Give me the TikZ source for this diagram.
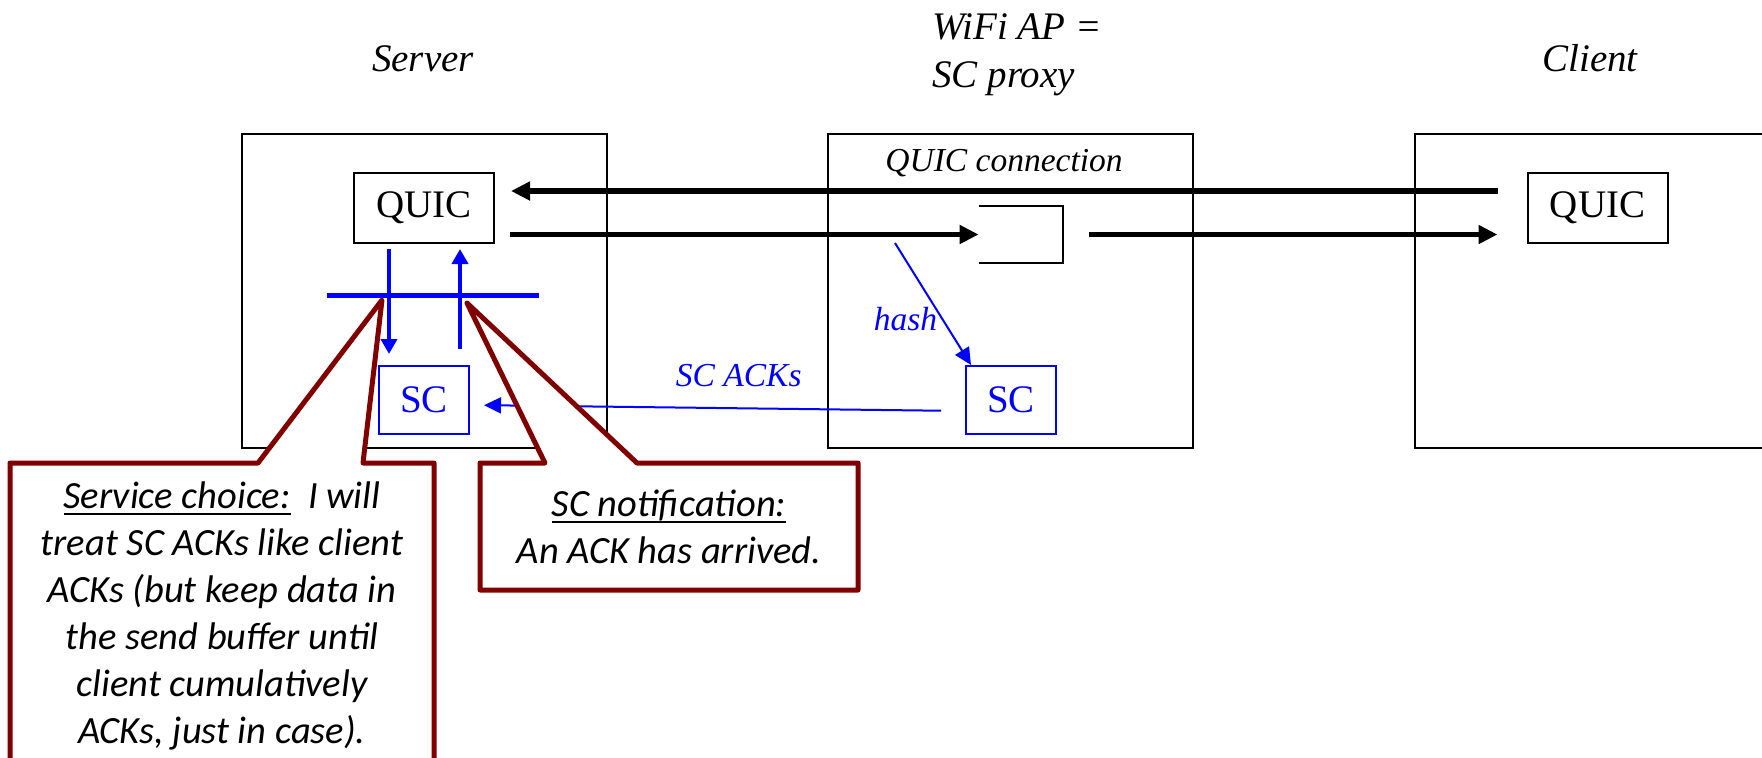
\documentclass[tikz,border=0pt]{standalone}
\usepackage{fontspec}
\setmainfont{Liberation Serif}
\newfontfamily\notefont{Carlito}
\usepackage{tikz}
\usetikzlibrary{arrows.meta,positioning}
\definecolor{sc_blue}{RGB}{0,0,255}
\definecolor{sc_maroon}{RGB}{128,0,0}
\newcommand\noteul[1]{\begingroup\setbox0\hbox{#1}\rlap{\rule[-3.6pt]{\wd0}{1.1pt}}\box0\endgroup}

\begin{document}
\begin{tikzpicture}[x=0.5pt, y=-0.5pt,
    host/.style={draw, line width=1pt, inner sep=0pt,
      minimum width=182.5pt, minimum height=157pt},
    quicbox/.style={draw, line width=1pt, minimum width=70pt, minimum height=35pt,
      font=\fontsize{19.5}{23}\selectfont},
    scbox/.style={draw=sc_blue, text=sc_blue, line width=1pt,
      minimum width=45pt, minimum height=34pt, font=\fontsize{19.5}{23}\selectfont},
    title/.style={inner sep=0pt, font=\fontsize{19.5}{24}\selectfont\itshape},
    tag/.style={font=\fontsize{16.75}{20}\selectfont\itshape},
    flow/.style={-{Triangle[length=9.5pt,width=9pt]}, line width=2.75pt},
    layer/.style={-{Triangle[length=7.5pt,width=8pt]}, sc_blue, line width=2.25pt},
    ack/.style={-{Triangle[length=8.5pt,width=8pt]}, sc_blue, line width=1pt},
    note/.style={draw=sc_maroon, fill=white, line width=2.5pt, line join=round},
    notetext/.style={align=center, font=\fontsize{19.25}{23.5}\selectfont\notefont\itshape}]
  \useasboundingbox (0,0) rectangle (1762,757);

  % hosts
  \node[host] (server) at (424,291) {};
  \node[host] (ap) at (1010.5,291) {};
  \node[host] (client) at (1597.5,291) {};
  \node[title, anchor=base] (servl) at (423,71) {Server};
  \node[title, anchor=base west, align=left] (apl) at (932,87) {WiFi AP =\\SC proxy};
  \node[title, anchor=base] (clil) at (1590,71) {Client};

  \node[quicbox] (squic) at (424,208) {QUIC};
  \node[quicbox] (cquic) at (1597.5,208) {QUIC};
  \node[scbox] (ssc) at (424,400) {SC};
  \node[scbox] (psc) at (1011,400) {SC};
  \node[tag, anchor=base] (connl) at (1004,171) {QUIC connection};

  % proxy buffer
  \node[minimum width=42pt, minimum height=28.5pt, inner sep=0pt] (buf) at (1021,234.5) {};
  \draw[line width=1pt] (buf.north west) -- (buf.north east) -- (buf.south east) -- (buf.south west);

  % QUIC packets
  \draw[flow, shorten <=14.5pt, shorten >=8pt] (cquic.west |- 0,191) -- (squic.east |- 0,191);
  \draw[flow, shorten <=7.5pt] (squic.east |- buf.west) -- (buf.west);
  \draw[flow, shorten <=13pt, shorten >=14.5pt] (buf.east) -- (cquic.west |- buf.east);

  % SC layer in the server
  \draw[sc_blue, line width=2.5pt] (327,295) -- (539,295);
  \draw[layer, shorten <=2.5pt, shorten >=5.5pt]
    ([xshift=-17.5pt]squic.south) -- ([xshift=-17.5pt]ssc.north);
  \draw[layer, shorten <=8pt, shorten >=2.5pt]
    ([xshift=18pt]ssc.north) -- ([xshift=18pt]squic.south);

  % hash and SC ACKs
  \coordinate (tap) at (895,243);
  \draw[ack] (tap) -- node[tag, text=sc_blue, pos=0.62, left, inner sep=2pt] (hashl) {hash}
    ([xshift=3pt]psc.north west);
  \draw[ack, shorten <=12pt, shorten >=7pt] ([yshift=-5.5pt]psc.west)
    -- node[tag, text=sc_blue, pos=0.457, above=7pt] (ackl) {SC ACKs} ([yshift=-2.5pt]ssc.east);

  % callouts
  \draw[note] (10,463) -- (258,463) -- (382,300) -- (363,463) -- (434,463)
    -- (434,790) -- (10,790) -- cycle;
  \node[notetext, anchor=base] (choice) at (222,743)
    {\noteul{Service choice:}\ \ I will\\treat SC ACKs like client\\ACKs (but keep data in\\the send buffer until\\client cumulatively\\ACKs, just in case).};
  \draw[note] (480,463) -- (545,463) -- (467,303) -- (637,463) -- (858,463)
    -- (858,590) -- (480,590) -- cycle;
  \node[notetext, anchor=base] (notif) at (669,563) {\noteul{SC notification:}\\An ACK has arrived.};
\end{tikzpicture}
\end{document}
